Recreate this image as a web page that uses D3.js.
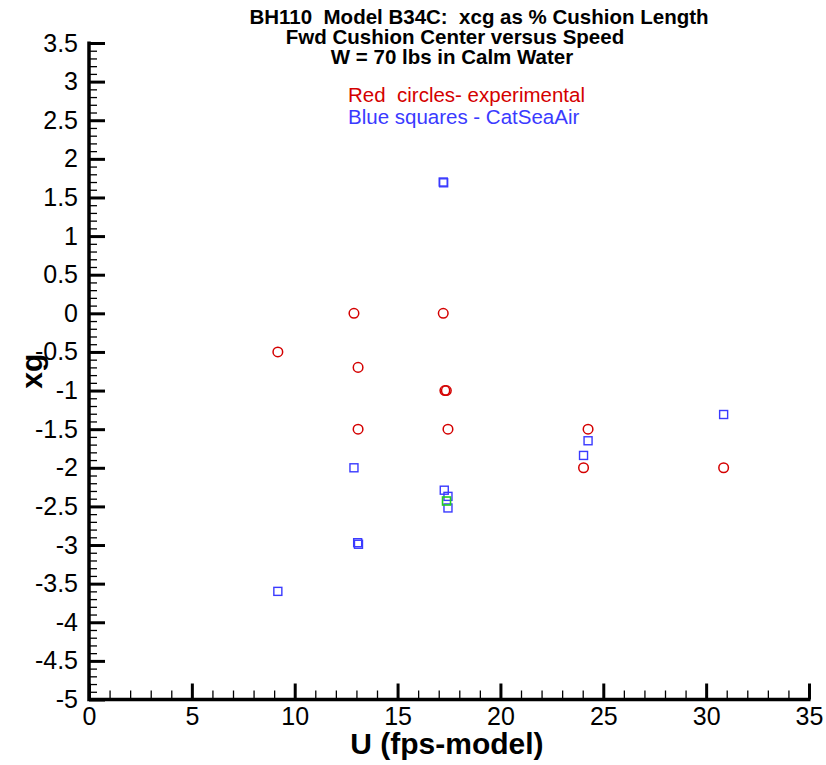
<!DOCTYPE html>
<html>
<head>
<meta charset="utf-8">
<script src="https://cdn.jsdelivr.net/npm/d3@7"></script>
<style>
  html, body { margin: 0; padding: 0; background: #fff; }
  svg { display: block; font-family: "Liberation Sans", Arial, sans-serif; }
</style>
</head>
<body>
<svg id="chart" width="826" height="765"></svg>
<script>
// Experimental runs: speed U (fps, model scale) and xg
const expU  = [9.18, 12.88, 13.08, 13.08, 17.22, 17.30, 17.37, 17.45, 24.04, 24.26, 30.85];
const expXg = [-0.5, 0.0, -0.7, -1.5, 0.0, -1.0, -1.0, -1.5, -2.0, -1.5, -2.0];

// CatSeaAir predictions
const csaU  = [17.22, 17.24, 12.88, 13.06, 13.10, 9.18, 17.27, 17.45, 17.45, 24.04, 24.26, 30.85];
const csaXg = [1.70, 1.69, -2.0, -2.97, -2.99, -3.60, -2.29, -2.37, -2.52, -1.84, -1.65, -1.31];

// Highlighted CatSeaAir point
const hiU  = [17.38];
const hiXg = [-2.43];

const xTicks = [0, 5, 10, 15, 20, 25, 30, 35];
const yTicks = [3.5, 3, 2.5, 2, 1.5, 1, 0.5, 0, -0.5, -1, -1.5, -2, -2.5, -3, -3.5, -4, -4.5, -5];

const titleLines = [
  "BH110  Model B34C:  xcg as % Cushion Length",
  "Fwd Cushion Center versus Speed",
  "W = 70 lbs in Calm Water"
];

const svg = d3.select("#chart");
const plotL = 89, plotR = 809, plotT = 43, plotB = 699.5;

const x = d3.scaleLinear().domain([0, 35]).range([plotL, plotR]);
const y = d3.scaleLinear().domain([-5, 3.5]).range([plotB, plotT]);

// Title block
const titleX = [479, 455, 452];
svg.append("g").selectAll("text").data(titleLines).join("text")
  .attr("x", (d, i) => titleX[i])
  .attr("y", (d, i) => 24 + i * 20)
  .attr("text-anchor", "middle")
  .attr("font-weight", "bold")
  .attr("font-size", 20.5)
  .attr("fill", "#000")
  .style("white-space", "pre")
  .text(d => d);

// Legend lines
svg.append("text").attr("x", 348).attr("y", 102)
  .attr("font-size", 20.5).attr("fill", "#d40000")
  .style("white-space", "pre")
  .text("Red  circles- experimental");
svg.append("text").attr("x", 348).attr("y", 124)
  .attr("font-size", 20.5).attr("fill", "#3a3aff")
  .text("Blue squares - CatSeaAir");

// Minor ticks
const xMinor = d3.axisBottom(x).tickValues(d3.range(0, 35.01, 1)).tickSize(-9).tickFormat("");
const yMinor = d3.axisLeft(y).tickValues(d3.range(-50, 36, 1).map(v => v / 10)).tickSize(-8).tickFormat("");
svg.append("g").attr("transform", `translate(0,${plotB})`).call(xMinor)
  .call(g => g.select(".domain").remove())
  .selectAll("line").attr("stroke", "#000").attr("stroke-width", 1.3);
svg.append("g").attr("transform", `translate(${plotL},0)`).call(yMinor)
  .call(g => g.select(".domain").remove())
  .selectAll("line").attr("stroke", "#000").attr("stroke-width", 1.3);

// Major ticks with labels
const xMajor = d3.axisBottom(x).tickValues(xTicks).tickSize(-16).tickPadding(8).tickFormat(d3.format("d"));
const yMajor = d3.axisLeft(y).tickValues(yTicks).tickSize(-16).tickPadding(11).tickFormat(d => String(d));

const gx = svg.append("g").attr("transform", `translate(0,${plotB})`).call(xMajor);
gx.select(".domain").remove();
gx.selectAll("line").attr("stroke", "#000").attr("stroke-width", 3);
gx.selectAll("text").attr("font-size", 25).attr("fill", "#000")
  .attr("font-family", "Liberation Sans, Arial, sans-serif");

const gy = svg.append("g").attr("transform", `translate(${plotL},0)`).call(yMajor);
gy.select(".domain").remove();
gy.selectAll("line").attr("stroke", "#000").attr("stroke-width", 3);
gy.selectAll("text").attr("font-size", 25).attr("fill", "#000")
  .attr("font-family", "Liberation Sans, Arial, sans-serif");

// Axis lines
svg.append("path")
  .attr("d", `M${plotL},${plotT - 1.5}V${plotB}H${plotR + 1.5}`)
  .attr("fill", "none").attr("stroke", "#000").attr("stroke-width", 3.5)
  .attr("stroke-linejoin", "miter");

// Axis titles
svg.append("text")
  .attr("x", x(17.4)).attr("y", 754)
  .attr("text-anchor", "middle").attr("font-weight", "bold").attr("font-size", 30)
  .text("U (fps-model)");
svg.append("text")
  .attr("transform", `translate(42,${y(-0.75)}) rotate(-90)`)
  .attr("text-anchor", "middle").attr("font-weight", "bold").attr("font-size", 30)
  .text("xg");

// Data marks
const sq = 8;
svg.append("g").selectAll("rect").data(d3.zip(csaU, csaXg)).join("rect")
  .attr("x", d => x(d[0]) - sq / 2).attr("y", d => y(d[1]) - sq / 2)
  .attr("width", sq).attr("height", sq)
  .attr("fill", "none").attr("stroke", "#3a3aff").attr("stroke-width", 1.4);

svg.append("g").selectAll("rect").data(d3.zip(hiU, hiXg)).join("rect")
  .attr("x", d => x(d[0]) - sq / 2).attr("y", d => y(d[1]) - sq / 2)
  .attr("width", sq).attr("height", sq)
  .attr("fill", "none").attr("stroke", "#22cc22").attr("stroke-width", 1.6);

svg.append("g").selectAll("circle").data(d3.zip(expU, expXg)).join("circle")
  .attr("cx", d => x(d[0])).attr("cy", d => y(d[1])).attr("r", 4.8)
  .attr("fill", "none").attr("stroke", "#d40000").attr("stroke-width", 1.5);
</script>
</body>
</html>
